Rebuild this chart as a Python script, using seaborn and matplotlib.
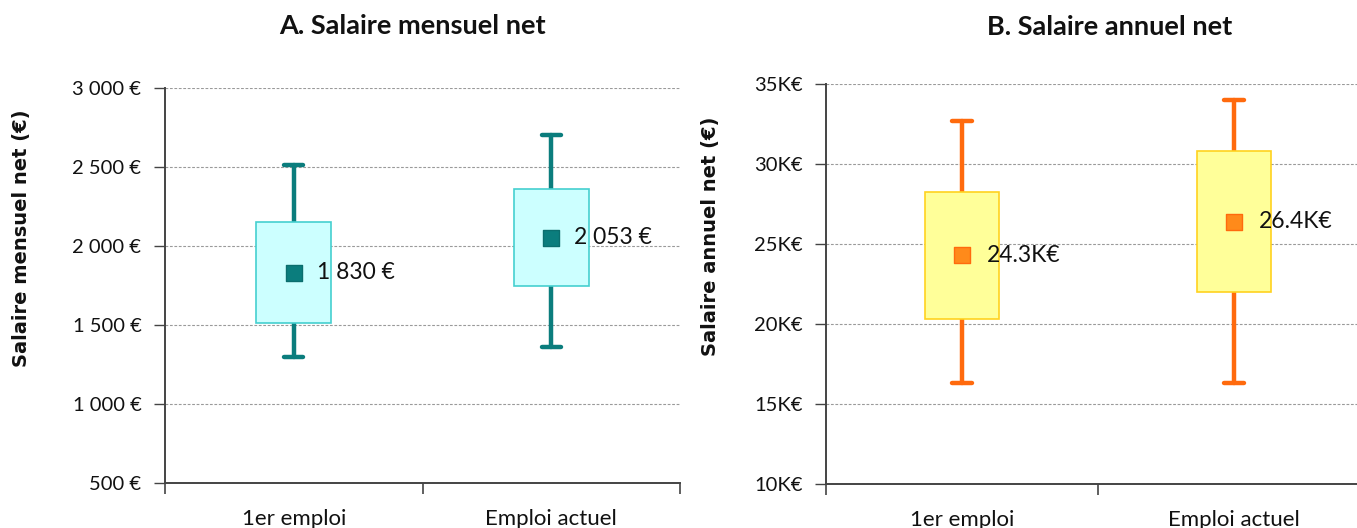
import matplotlib
matplotlib.use("Agg")
import matplotlib.pyplot as plt
import seaborn as sns
import pandas as pd
from matplotlib.ticker import FuncFormatter, FixedLocator

categories = ["1er emploi", "Emploi actuel"]

# A. monthly salary (EUR)
m_whislo = [1300, 1360]
m_q1 = [1510, 1750]
m_q3 = [2150, 2360]
m_whishi = [2515, 2700]
m_mean = [1830, 2053]

# B. annual salary (K EUR)
a_whislo = [16.3, 16.3]
a_q1 = [20.3, 22.0]
a_q3 = [28.25, 30.8]
a_whishi = [32.7, 34.0]
a_mean = [24.3, 26.4]

sns.set_theme(style="white")
plt.rcParams["font.family"] = ["Lato", "DejaVu Sans"]

fig = plt.figure(figsize=(13.57, 5.28), dpi=100)
axA = fig.add_axes([165/1357, 1-483/528, 515/1357, 395/528])
axB = fig.add_axes([826/1357, 1-484/528, 531/1357, 400/528])


def fmt_eur(v, pos=None):
    return "{:,.0f} €".format(v).replace(",", " ")


def fmt_k(v, pos=None):
    return "{:.0f}K€".format(v)


def draw(ax, whislo, q1, q3, whishi, mean, fill, edge, wcol, mcol, medge,
         ylim, ystep, yfmt, lblfmt, width, ylabel, label_x, xmax):
    stats = []
    for i, c in enumerate(categories):
        stats.append(dict(label=c, whislo=whislo[i], q1=q1[i], med=(q1[i]+q3[i])/2,
                          q3=q3[i], whishi=whishi[i], mean=mean[i]))
    ax.bxp(stats, positions=[0, 1], widths=width, patch_artist=True,
           showmeans=False, showfliers=False, capwidths=0.075,
           boxprops=dict(facecolor=fill, edgecolor=edge, linewidth=1.2, zorder=3),
           whiskerprops=dict(color=wcol, linewidth=3.2, zorder=2),
           capprops=dict(color=wcol, linewidth=3.2, zorder=2),
           medianprops=dict(linewidth=0))
    df = pd.DataFrame({"x": [0, 1], "y": mean})
    sns.scatterplot(data=df, x="x", y="y", marker="s", s=135, color=mcol,
                    edgecolor=medge, linewidth=1, ax=ax, zorder=5)
    for i, v in enumerate(mean):
        ax.text(i + 0.09, v, lblfmt(v), ha="left", va="center", fontsize=16.5,
                color="#111111", zorder=6)
    ax.set_xlim(-0.5, xmax)
    ax.set_ylim(*ylim)
    ticks = list(range(int(ylim[0]*10), int(ylim[1]*10)+1, int(ystep*10)))
    ax.yaxis.set_major_locator(FixedLocator([t/10 for t in ticks]))
    ax.yaxis.set_major_formatter(FuncFormatter(yfmt))
    ax.grid(axis="y", color="#9a9a9a", linestyle=(0, (2.5, 1.5)), linewidth=0.8)
    ax.set_axisbelow(True)
    ax.xaxis.set_major_locator(FixedLocator([0, 1]))
    ax.set_xticklabels(categories)
    ax.xaxis.set_minor_locator(FixedLocator([-0.5, 0.5, 1.5]))
    ax.tick_params(axis="x", which="major", length=0, pad=19, labelsize=16, colors="#111111")
    ax.tick_params(axis="x", which="minor", length=8, width=1.2, direction="out",
                   color="#444444", bottom=True)
    ax.tick_params(axis="y", length=8, width=1, direction="out", left=True,
                   color="#444444", pad=9, labelsize=14.5, labelcolor="#111111")
    for s in ["top", "right"]:
        ax.spines[s].set_visible(False)
    for s in ["left", "bottom"]:
        ax.spines[s].set_color("#444444")
        ax.spines[s].set_linewidth(1.4)
    ax.set_xlabel("")
    ax.set_ylabel(ylabel, fontsize=14, fontweight="bold", family="DejaVu Sans",
                  color="#111111")
    ax.yaxis.set_label_coords(label_x, 0.62)


draw(axA, m_whislo, m_q1, m_q3, m_whishi, m_mean, "#ccffff", "#45cfcf", "#0b7d7d",
     "#0b7d7d", "#0b6e6e", (500, 3000), 500, fmt_eur, fmt_eur, 0.29,
     "Salaire mensuel net (€)", -0.26, 1.5)
draw(axB, a_whislo, a_q1, a_q3, a_whishi, a_mean, "#ffff99", "#ffd21f", "#ff6a0d",
     "#ff8a1a", "#ff6a0d", (10, 35), 5, fmt_k, lambda v: "{:.1f}K€".format(v), 0.27,
     "Salaire annuel net (€)", -0.2, 1.452)

fig.text(412/1357, 1-26/528, "A. Salaire mensuel net", ha="center", va="center",
         fontsize=19.5, fontweight="bold", color="#111111")
fig.text(1110/1357, 1-27/528, "B. Salaire annuel net", ha="center", va="center",
         fontsize=19.5, fontweight="bold", color="#111111")

fig.savefig("out.png", dpi=100)
